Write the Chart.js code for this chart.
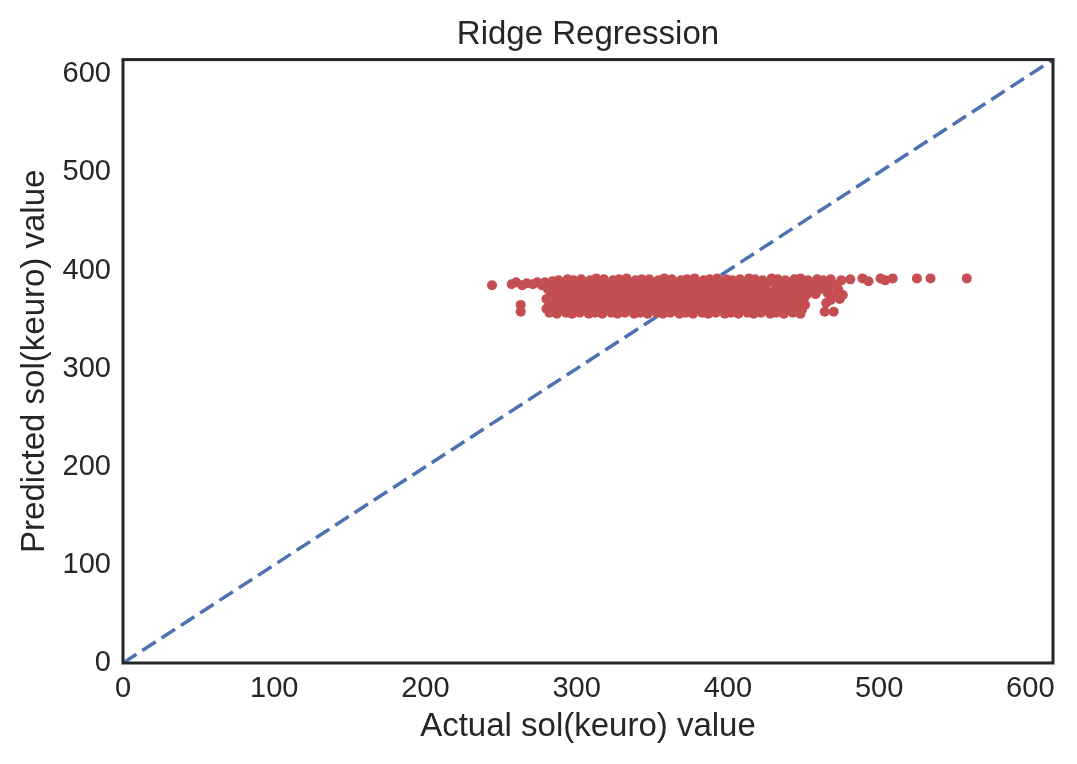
<!DOCTYPE html>
<html>
<head>
<meta charset="utf-8">
<title>Ridge Regression</title>
<script src="https://cdn.jsdelivr.net/npm/chart.js@4.4.1/dist/chart.umd.min.js"></script>
<style>
  html, body { margin: 0; padding: 0; background: #fff; }
  #wrap { width: 1077px; height: 764px; position: relative; }
</style>
</head>
<body>
<div id="wrap"><canvas id="chart"></canvas></div>
<script>
'use strict';

// actual vs predicted sol(keuro)
const actualValues = [
  284, 288, 294, 298, 303, 309, 313, 318, 324, 328, 333, 339, 343, 348, 354, 358, 363, 369, 373, 378, 384, 388, 393, 399, 403, 408, 414, 418, 423, 429, 433, 438, 444, 448, 453, 459, 463, 468,
  286, 291, 297, 301, 306, 312, 316, 321, 327, 331, 336, 342, 346, 351, 357, 361, 366, 372, 376, 381, 387, 391, 396, 402, 406, 411, 417, 421, 426, 432, 436, 441, 447, 451, 456, 462, 466, 471,
  281, 285, 290, 296, 300, 305, 311, 315, 320, 326, 330, 335, 341, 345, 350, 356, 360, 365, 371, 375, 380, 386, 390, 395, 401, 405, 410, 416, 420, 425, 431, 435, 440, 446, 450, 455, 461, 466, 473,
  283, 288, 294, 298, 303, 309, 313, 318, 324, 328, 333, 339, 343, 348, 354, 358, 363, 369, 373, 378, 384, 388, 393, 399, 403, 408, 414, 418, 423, 429, 433, 438, 444, 448, 452, 458, 466, 471, 476,
  280, 285, 291, 295, 300, 306, 310, 315, 321, 325, 330, 336, 340, 345, 351, 355, 360, 366, 370, 375, 381, 385, 390, 396, 400, 405, 411, 415, 420, 426, 430, 435, 441, 445, 450, 468, 474,
  282, 287, 293, 297, 302, 308, 312, 317, 323, 327, 332, 338, 342, 347, 353, 357, 362, 368, 372, 377, 383, 387, 392, 398, 402, 407, 413, 417, 422, 428, 432, 437, 443, 447, 451, 465,
  280, 284, 290, 295, 299, 305, 310, 314, 320, 325, 329, 335, 340, 344, 350, 355, 359, 365, 370, 374, 380, 385, 389, 395, 400, 404, 410, 415, 419, 425, 430, 434, 440, 445, 449,
  282, 287, 293, 297, 302, 308, 312, 317, 323, 327, 332, 338, 342, 347, 353, 357, 362, 368, 372, 377, 383, 387, 392, 398, 402, 407, 413, 417, 422, 428, 432, 437, 443, 448, 464, 470,
  // stragglers left and right of the main block
  244, 257, 260, 264, 267, 271, 274, 277, 279, 263, 263, 475, 481, 489, 493, 501, 504, 509, 525, 534, 558
];

const predictedValues = [
  389, 390, 391, 390, 391, 390, 392, 391, 390, 391, 392, 390, 391, 391, 390, 392, 391, 390, 391, 392, 390, 391, 392, 391, 390, 391, 392, 391, 390, 392, 391, 390, 391, 392, 390, 391, 390, 391,
  386, 385, 387, 386, 385, 386, 387, 386, 385, 387, 386, 386, 385, 387, 386, 385, 386, 387, 386, 385, 386, 387, 385, 386, 387, 386, 385, 386, 387, 386, 385, 386, 387, 386, 385, 386, 387, 385,
  381, 382, 380, 381, 382, 381, 380, 382, 381, 380, 381, 382, 381, 380, 382, 381, 380, 381, 382, 381, 380, 382, 381, 380, 381, 382, 381, 380, 382, 381, 380, 381, 382, 381, 380, 382, 381, 380, 381,
  376, 375, 377, 376, 375, 376, 377, 376, 375, 377, 376, 375, 376, 377, 376, 375, 376, 377, 375, 376, 377, 376, 375, 376, 377, 376, 375, 376, 377, 376, 375, 376, 377, 376, 375, 376, 377, 376, 375,
  371, 370, 372, 371, 370, 371, 372, 371, 370, 372, 371, 370, 371, 372, 371, 370, 371, 372, 370, 371, 372, 371, 370, 371, 372, 371, 370, 371, 372, 371, 370, 371, 372, 371, 370, 370, 371,
  366, 365, 367, 366, 365, 366, 367, 366, 365, 367, 366, 365, 366, 367, 366, 365, 366, 367, 365, 366, 367, 366, 365, 366, 367, 366, 365, 366, 367, 366, 365, 366, 367, 366, 365, 367,
  361, 360, 362, 361, 360, 361, 362, 361, 360, 362, 361, 360, 361, 362, 361, 360, 361, 362, 360, 361, 362, 361, 360, 361, 362, 361, 360, 361, 362, 361, 360, 361, 362, 361, 360,
  357, 356, 357, 356, 357, 356, 357, 356, 357, 356, 357, 356, 357, 356, 357, 356, 357, 356, 357, 356, 357, 356, 357, 356, 357, 356, 357, 356, 357, 356, 357, 356, 357, 356, 358, 358,
  385, 386, 388, 385, 387, 386, 388, 385, 388, 365, 358, 390, 391, 392, 389, 392, 390, 392, 392, 392, 392
];

// y = x reference line
const diagonalX = [0, 615];
const diagonalY = [0, 615];

const axisMax = 615;
const tickValues = [0, 100, 200, 300, 400, 500, 600];

const textColor = '#262626';
Chart.defaults.font.family = '"Liberation Sans", Arial, sans-serif';
Chart.defaults.color = textColor;

// box round the plot area, like the axes spines
const framePlugin = {
  id: 'frame',
  afterDatasetsDraw(chart) {
    const {ctx, chartArea: a} = chart;
    ctx.save();
    ctx.strokeStyle = textColor;
    ctx.lineWidth = 3;
    ctx.strokeRect(a.left, a.top, a.right - a.left, a.bottom - a.top);
    ctx.restore();
  }
};

function fixedTicks(scale) {
  scale.ticks = tickValues.map(v => ({value: v}));
}

const scatterPoints = actualValues.map((x, i) => ({x: x, y: predictedValues[i]}));
const diagonalPoints = diagonalX.map((x, i) => ({x: x, y: diagonalY[i]}));

new Chart(document.getElementById('chart'), {
  type: 'scatter',
  data: {
    datasets: [{
      label: 'predictions',
      data: scatterPoints,
      order: 0,
      pointRadius: 5,
      pointHoverRadius: 5,
      pointBackgroundColor: '#C44E52',
      pointBorderColor: '#C44E52',
      pointBorderWidth: 0
    }, {
      label: 'ideal',
      data: diagonalPoints,
      order: 1,
      showLine: true,
      borderColor: '#4C72B0',
      borderWidth: 3.5,
      borderDash: [16, 7],
      pointRadius: 0,
      fill: false
    }]
  },
  options: {
    responsive: true,
    maintainAspectRatio: false,
    animation: false,
    layout: { padding: { left: 0, right: 24, top: 0, bottom: 0 } },
    plugins: {
      legend: { display: false },
      tooltip: { enabled: false },
      title: {
        display: true,
        text: 'Ridge Regression',
        fullSize: false,
        color: textColor,
        font: { size: 33, weight: 'normal' },
        padding: { top: 15, bottom: 5 }
      }
    },
    scales: {
      x: {
        type: 'linear',
        min: 0,
        max: axisMax,
        afterBuildTicks: fixedTicks,
        afterFit: function(scale) { scale.height = 101; },
        grid: { display: false, drawTicks: false },
        border: { display: false },
        ticks: { padding: 9, color: textColor, font: { size: 29 } },
        title: {
          display: true,
          text: 'Actual sol(keuro) value',
          color: textColor,
          font: { size: 33 },
          padding: { top: 0, bottom: 17 }
        }
      },
      y: {
        type: 'linear',
        min: 0,
        max: axisMax,
        afterBuildTicks: fixedTicks,
        afterFit: function(scale) { scale.width = 123; },
        grid: { display: false, drawTicks: false },
        border: { display: false },
        ticks: { padding: 12, color: textColor, font: { size: 29 } },
        title: {
          display: true,
          text: 'Predicted sol(keuro) value',
          color: textColor,
          font: { size: 33 },
          padding: { top: 15, bottom: 0 }
        }
      }
    }
  },
  plugins: [framePlugin]
});
</script>
</body>
</html>
